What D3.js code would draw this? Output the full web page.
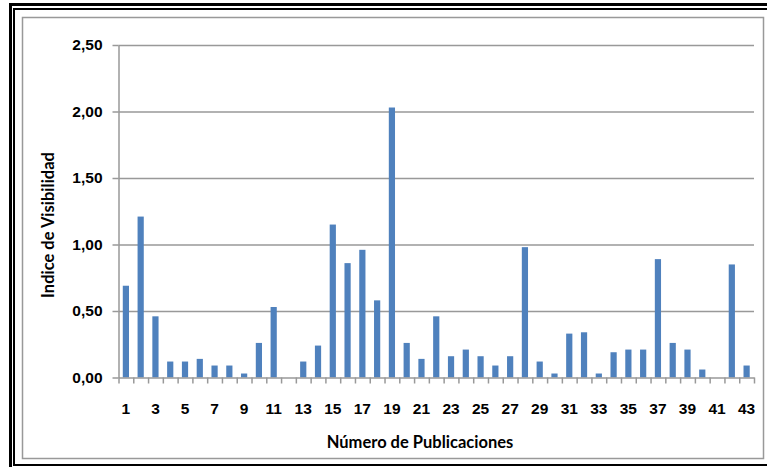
<!DOCTYPE html>
<html>
<head>
<meta charset="utf-8">
<script src="https://d3js.org/d3.v7.min.js"></script>
<style>
  body { margin: 0; background: #fff; }
  svg { display: block; font-family: Lato, "Open Sans", sans-serif; }
  .tick text { font-weight: bold; fill: #000; }
</style>
</head>
<body>
<svg width="767" height="467"></svg>
<script>
// data
var categories = [1, 2, 3, 4, 5, 6, 7, 8, 9, 10, 11, 12, 13, 14, 15, 16, 17, 18, 19, 20, 21, 22,
                  23, 24, 25, 26, 27, 28, 29, 30, 31, 32, 33, 34, 35, 36, 37, 38, 39, 40, 41, 42, 43];
var values = [0.69, 1.21, 0.46, 0.12, 0.12, 0.14, 0.09, 0.09, 0.03, 0.26, 0.53, 0.00, 0.12, 0.24,
              1.15, 0.86, 0.96, 0.58, 2.03, 0.26, 0.14, 0.46, 0.16, 0.21, 0.16, 0.09, 0.16, 0.98,
              0.12, 0.03, 0.33, 0.34, 0.03, 0.19, 0.21, 0.21, 0.89, 0.26, 0.21, 0.06, 0.00, 0.85, 0.09];
var xTickLabels = [1, 3, 5, 7, 9, 11, 13, 15, 17, 19, 21, 23, 25, 27, 29, 31, 33, 35, 37, 39, 41, 43];
var yTicks = [0, 0.5, 1, 1.5, 2, 2.5];
var yTickLabels = ['0,00', '0,50', '1,00', '1,50', '2,00', '2,50'];

var data = categories.map(function (c, i) { return { cat: c, val: values[i] }; });

// layout
var plot = { left: 118.5, right: 754, top: 45, bottom: 377.5 };

var svg = d3.select('svg');

// frame
svg.append('rect')
    .attr('x', 10.5).attr('y', 4.5).attr('width', 800).attr('height', 500)
    .attr('fill', 'none').attr('stroke', '#000').attr('stroke-width', 3);
svg.append('rect')
    .attr('x', 14).attr('y', 9).attr('width', 800).attr('height', 456)
    .attr('fill', 'none').attr('stroke', '#000').attr('stroke-width', 2);
svg.append('rect')
    .attr('x', 22.5).attr('y', 17.5).attr('width', 741).attr('height', 441)
    .attr('fill', '#fff').attr('stroke', '#999').attr('stroke-width', 1.5);

// scales
var x = d3.scaleBand()
    .domain(categories)
    .range([plot.left, plot.right])
    .paddingInner(0.58)
    .paddingOuter(0.29);

var xEdges = d3.scaleLinear()
    .domain([0, categories.length])
    .range([plot.left, plot.right]);

var y = d3.scaleLinear()
    .domain([0, 2.5])
    .range([plot.bottom, plot.top]);

// gridlines
svg.append('g')
    .attr('transform', 'translate(' + plot.left + ',0)')
    .call(d3.axisLeft(y).tickValues(yTicks.slice(1)).tickSize(-(plot.right - plot.left)).tickFormat(''))
    .call(function (g) { g.select('.domain').remove(); })
    .selectAll('line').attr('stroke', '#999').attr('stroke-width', 1.5);

// y axis
svg.append('g')
    .attr('transform', 'translate(' + plot.left + ',0)')
    .call(d3.axisLeft(y).tickValues(yTicks).tickSize(6).tickSizeOuter(0).tickPadding(10)
        .tickFormat(function (d, i) { return yTickLabels[i]; }))
    .call(function (g) {
        g.select('.domain').attr('stroke', '#999').attr('stroke-width', 1.5);
        g.selectAll('line').attr('stroke', '#999').attr('stroke-width', 1.5);
        g.selectAll('text').style('font-size', '15.5px');
    });

// bars
svg.selectAll('.bar').data(data)
    .enter().append('rect')
    .attr('class', 'bar')
    .attr('x', function (d) { return x(d.cat); })
    .attr('width', x.bandwidth())
    .attr('y', function (d) { return y(d.val); })
    .attr('height', function (d) { return y(0) - y(d.val); })
    .attr('fill', '#4F81BD');

// x axis: boundary ticks
svg.append('g')
    .attr('transform', 'translate(0,' + plot.bottom + ')')
    .call(d3.axisBottom(xEdges).tickValues(d3.range(0, categories.length + 1)).tickSize(6).tickSizeOuter(0).tickFormat(''))
    .call(function (g) {
        g.select('.domain').attr('stroke', '#999').attr('stroke-width', 1.5);
        g.selectAll('line').attr('stroke', '#999').attr('stroke-width', 1.5);
    });

// x axis: labels
svg.append('g')
    .attr('transform', 'translate(0,' + plot.bottom + ')')
    .call(d3.axisBottom(x).tickValues(xTickLabels).tickSize(0).tickPadding(25))
    .call(function (g) {
        g.select('.domain').remove();
        g.selectAll('text').style('font-size', '15.5px');
    });

// axis titles
svg.append('text')
    .attr('x', 420)
    .attr('y', 448)
    .attr('text-anchor', 'middle')
    .style('font-size', '16.5px')
    .style('font-weight', 'bold')
    .text('Número de Publicaciones');

svg.append('text')
    .attr('transform', 'translate(54,' + 225 + ') rotate(-90)')
    .attr('text-anchor', 'middle')
    .style('font-size', '16.5px')
    .style('font-weight', 'bold')
    .text('Indice de Visibilidad');
</script>
</body>
</html>
